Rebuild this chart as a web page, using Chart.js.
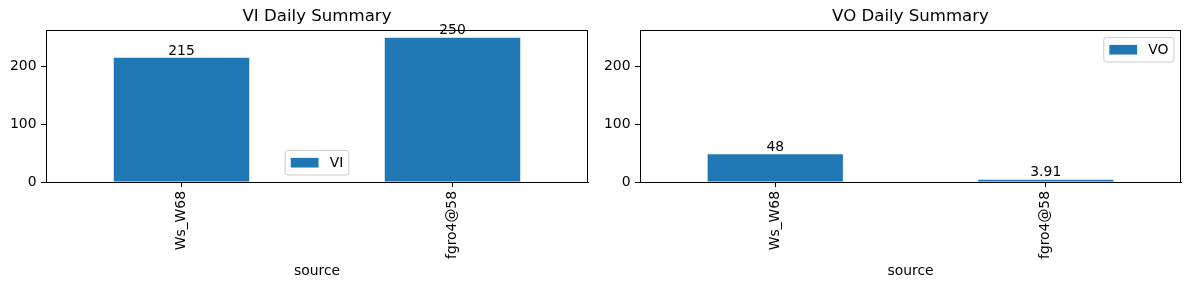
<!DOCTYPE html>
<html>
<head>
<meta charset="utf-8">
<script src="https://cdn.jsdelivr.net/npm/chart.js@4"></script>
<style>
  html, body { margin: 0; padding: 0; background: #fff; }
  #wrap { position: relative; width: 1189px; height: 290px; }
  canvas { position: absolute; top: 0; }
</style>
</head>
<body>
<div id="wrap">
  <canvas id="vi-chart" width="594" height="290" style="left:0"></canvas>
  <canvas id="vo-chart" width="595" height="290" style="left:594px"></canvas>
</div>
<script>
// data
var sources = ['Ws_W68', 'fgro4@58'];
var viValues = [215, 250];
var voValues = [48, 3.91];
var yTicks = [0, 100, 200];

var BLUE = '#1f77b4';
var FONT = 'DejaVu Sans';
var FS = 13.9;

Chart.defaults.font.family = FONT;
Chart.defaults.color = '#000';

// box around plot, value labels on bars, matplotlib-like legend
var mplPlugin = {
  id: 'mpl',
  afterDatasetsDraw: function (chart, args, opts) {
    var ctx = chart.ctx;
    var area = chart.chartArea;
    ctx.save();

    // bar labels
    var meta = chart.getDatasetMeta(0);
    var vals = chart.data.datasets[0].data;
    ctx.font = FS + 'px ' + FONT;
    ctx.fillStyle = '#000';
    ctx.textAlign = 'center';
    ctx.textBaseline = 'alphabetic';
    meta.data.forEach(function (bar, i) {
      ctx.fillText(String(vals[i]), bar.x, bar.y - 3.3);
    });

    // frame
    ctx.strokeStyle = '#000';
    ctx.lineWidth = 1;
    ctx.strokeRect(Math.round(area.left) + 0.5, Math.round(area.top) + 0.5,
      Math.round(area.right - area.left) - 1, Math.round(area.bottom - area.top));

    // legend
    var label = chart.data.datasets[0].label;
    var pad = 0.4 * FS, hl = 2 * FS, htp = 0.8 * FS;
    var tw = ctx.measureText(label).width;
    var w = pad * 2 + hl + htp + tw;
    var h = 24.6;
    var x, y;
    if (opts.loc === 'lower center') {
      x = (area.left + area.right) / 2 - w / 2;
      y = area.bottom - 7 - h;
    } else {
      x = area.right - 7 - w;
      y = area.top + 7;
    }
    var r = 2.8;
    ctx.beginPath();
    ctx.moveTo(x + r, y);
    ctx.arcTo(x + w, y, x + w, y + h, r);
    ctx.arcTo(x + w, y + h, x, y + h, r);
    ctx.arcTo(x, y + h, x, y, r);
    ctx.arcTo(x, y, x + w, y, r);
    ctx.closePath();
    ctx.fillStyle = 'rgba(255,255,255,0.8)';
    ctx.fill();
    ctx.strokeStyle = '#cccccc';
    ctx.stroke();
    ctx.fillStyle = BLUE;
    ctx.fillRect(x + pad, y + h / 2 - 4.85, hl, 9.7);
    ctx.fillStyle = '#000';
    ctx.textAlign = 'left';
    ctx.textBaseline = 'middle';
    ctx.fillText(label, x + pad + hl + htp, y + h / 2 + 0.5);

    ctx.restore();
  }
};

function makeChart(id, title, label, values, legendLoc, padRight) {
  return new Chart(document.getElementById(id), {
    type: 'bar',
    data: {
      labels: sources,
      datasets: [{
        label: label,
        data: values,
        backgroundColor: BLUE,
        borderWidth: 0,
        categoryPercentage: 1,
        barPercentage: 0.5
      }]
    },
    options: {
      responsive: false,
      animation: false,
      layout: { padding: { left: 0, right: padRight, top: 0, bottom: 8 } },
      plugins: {
        legend: { display: false },
        tooltip: { enabled: false },
        title: {
          display: true,
          text: title,
          fullSize: false,
          color: '#000',
          font: { size: 16.6, weight: 'normal', family: FONT },
          padding: { top: 6.5, bottom: 4 }
        },
        mpl: { loc: legendLoc }
      },
      scales: {
        x: {
          offset: true,
          grid: { offset: false, drawOnChartArea: false, tickLength: 5, color: '#000', tickColor: '#000' },
          border: { display: true, color: '#000', width: 1 },
          ticks: {
            minRotation: 90, maxRotation: 90, autoSkip: false,
            padding: 4, color: '#000', font: { size: FS }
          },
          title: {
            display: true, text: 'source', color: '#000',
            font: { size: FS }, padding: { top: 4, bottom: 2 }
          },
          afterFit: function (s) { s.height = 100; }
        },
        y: {
          min: 0,
          max: 262.5,
          afterBuildTicks: function (s) {
            s.ticks = yTicks.map(function (v) { return { value: v }; });
          },
          grid: { drawOnChartArea: false, tickLength: 5, color: '#000', tickColor: '#000' },
          border: { display: true, color: '#000', width: 1 },
          ticks: { padding: 4.5, color: '#000', font: { size: FS } },
          afterFit: function (s) { s.width = 46; }
        }
      }
    },
    plugins: [mplPlugin]
  });
}

makeChart('vi-chart', 'VI Daily Summary', 'VI', viValues, 'lower center', 6);
makeChart('vo-chart', 'VO Daily Summary', 'VO', voValues, 'upper right', 8);
</script>
</body>
</html>
